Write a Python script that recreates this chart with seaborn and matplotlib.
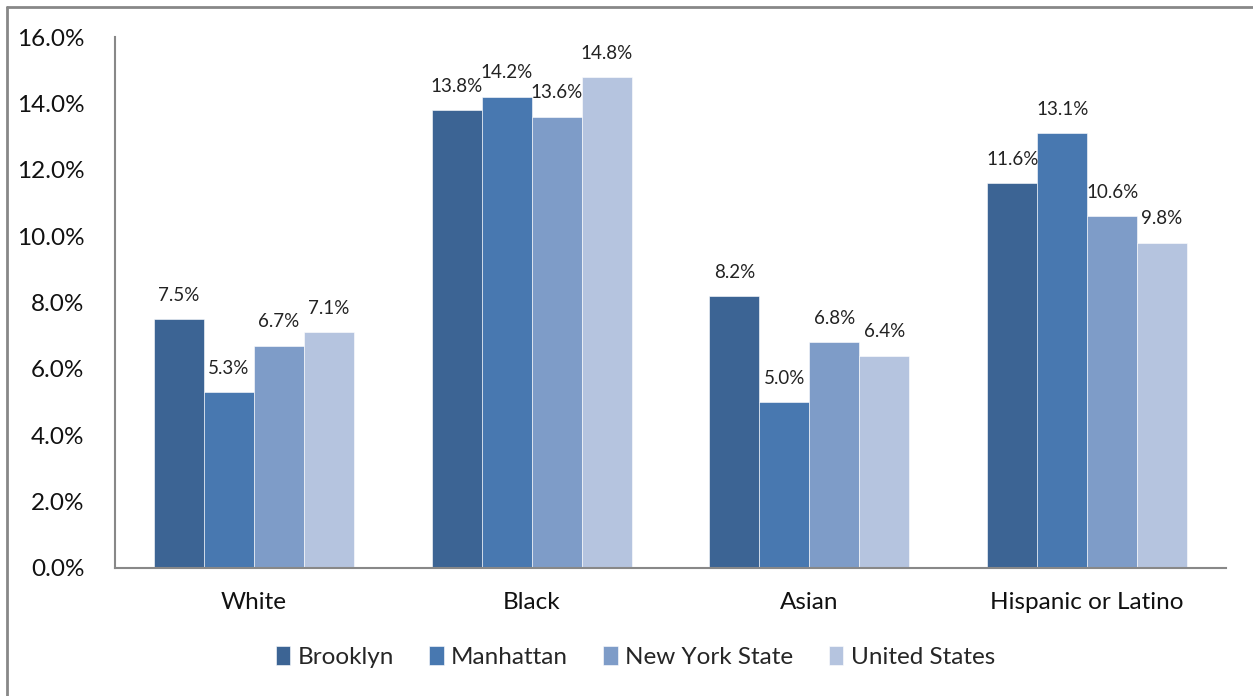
import matplotlib
matplotlib.use("Agg")
import matplotlib.pyplot as plt
import matplotlib.lines as mlines
import pandas as pd
import seaborn as sns

groups = ["White", "Black", "Asian", "Hispanic or Latino"]
regions = ["Brooklyn", "Manhattan", "New York State", "United States"]
brooklyn = [7.5, 13.8, 8.2, 11.6]
manhattan = [5.3, 14.2, 5.0, 13.1]
nys = [6.7, 13.6, 6.8, 10.6]
usa = [7.1, 14.8, 6.4, 9.8]
colors = ["#3C6494", "#4878B0", "#7E9CC8", "#B5C4DF"]

rows = []
for reg, vals in zip(regions, [brooklyn, manhattan, nys, usa]):
    for g, v in zip(groups, vals):
        rows.append({"group": g, "region": reg, "value": v})
df = pd.DataFrame(rows)

sns.set_style("white")
plt.rcParams["font.family"] = ["Lato", "DejaVu Sans"]

fig = plt.figure(figsize=(12.53, 6.96), dpi=100)
ax = fig.add_axes([115 / 1253, 1 - 568 / 696, (1226 - 115) / 1253, (568 - 37) / 696])

sns.barplot(data=df, x="group", y="value", hue="region", order=groups,
            hue_order=regions, palette=colors, saturation=1, width=0.72, gap=0,
            ax=ax, legend=True, edgecolor="white", linewidth=0.4)

for cont in ax.containers:
    ax.bar_label(cont, fmt="%.1f%%", padding=11, fontsize=13.5, color="#222222")

ax.set_ylim(0, 16)
ax.set_yticks(range(0, 17, 2))
ax.yaxis.set_major_formatter(lambda v, p: f"{v:.1f}%")
ax.set_xlim(-0.5, 3.5)
ax.set_xlabel("")
ax.set_ylabel("")
ax.tick_params(axis="y", labelsize=17.5, pad=22, length=0, colors="#111111")
ax.tick_params(axis="x", labelsize=17.5, pad=17, length=0, colors="#111111")
for side in ["top", "right"]:
    ax.spines[side].set_visible(False)
for side in ["left", "bottom"]:
    ax.spines[side].set_color("#888888")
    ax.spines[side].set_linewidth(1.5)

handles, labels = ax.get_legend_handles_labels()
ax.legend_.remove()
fig.legend(handles, labels, loc="center", bbox_to_anchor=(0.507, 1 - 657 / 696),
           ncol=4, frameon=False, fontsize=17.5, handlelength=0.6, handleheight=0.8,
           handletextpad=0.3, columnspacing=1.45)

# chart-area frame (left and top edges visible)
fig.add_artist(mlines.Line2D([7 / 1253, 7 / 1253], [0, 1 - 7 / 696],
                             transform=fig.transFigure, color="#888888", lw=2))
fig.add_artist(mlines.Line2D([7 / 1253, 1], [1 - 7 / 696, 1 - 7 / 696],
                             transform=fig.transFigure, color="#888888", lw=2))

fig.savefig("out.png", dpi=100)
